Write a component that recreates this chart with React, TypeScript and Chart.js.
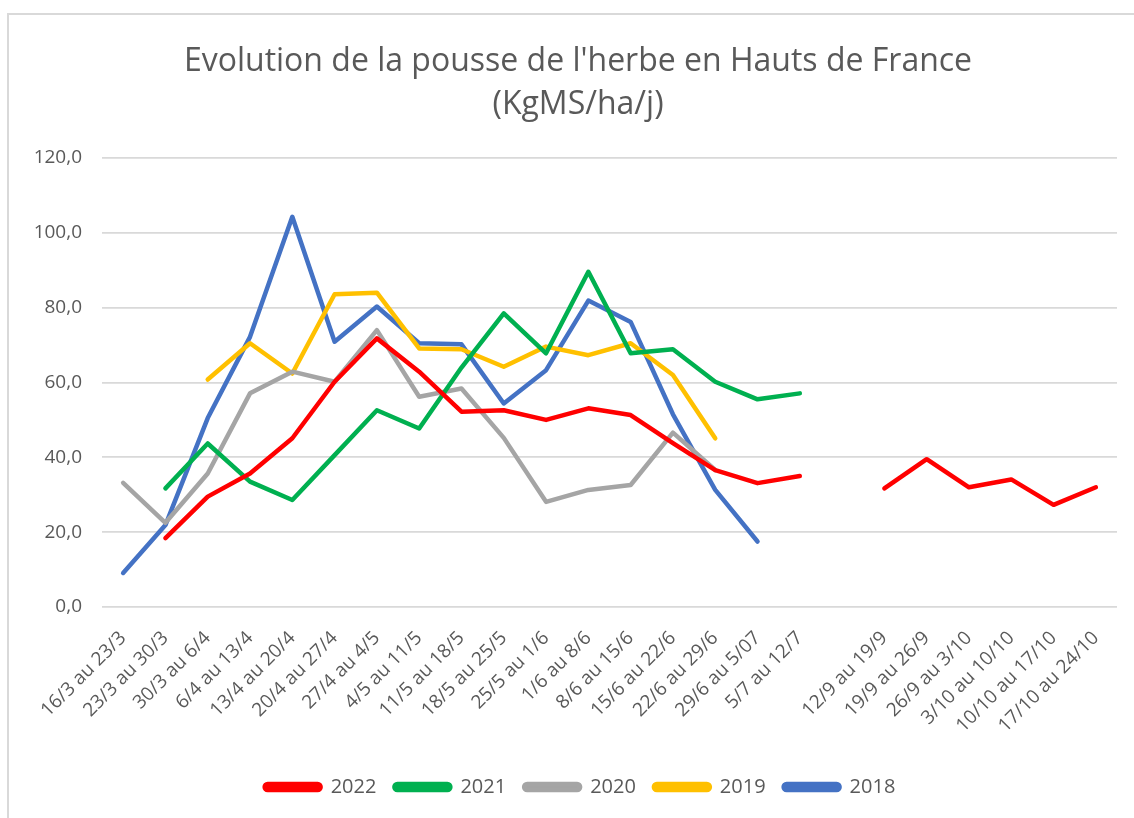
import React, { useEffect, useRef } from "react";
import { Chart, registerables } from "chart.js";

Chart.register(...registerables);

const categories: string[] = [
  "16/3 au 23/3", "23/3 au 30/3", "30/3 au 6/4", "6/4 au 13/4", "13/4 au 20/4",
  "20/4 au 27/4", "27/4 au 4/5", "4/5 au 11/5", "11/5 au 18/5", "18/5 au 25/5",
  "25/5 au 1/6", "1/6 au 8/6", "8/6 au 15/6", "15/6 au 22/6", "22/6 au 29/6",
  "29/6 au 5/07", "5/7 au 12/7", "", "12/9 au 19/9", "19/9 au 26/9",
  "26/9 au 3/10", "3/10 au 10/10", "10/10 au 17/10", "17/10 au 24/10",
];

const s2022: (number | null)[] = [
  null, 18.4, 29.5, 35.7, 45.1, 60.2, 71.8, 62.9, 52.2, 52.6, 50.0, 53.1,
  51.3, 43.8, 36.6, 33.1, 35.0, null, 31.7, 39.5, 32.0, 34.1, 27.3, 32.0,
];
const s2021: (number | null)[] = [
  null, 31.7, 43.7, 33.5, 28.6, 40.6, 52.6, 47.7, 64.0, 78.5, 67.8, 89.6,
  67.8, 68.9, 60.2, 55.5, 57.1, null, null, null, null, null, null, null,
];
const s2020: (number | null)[] = [
  33.2, 22.5, 35.7, 57.1, 62.9, 60.2, 74.0, 56.2, 58.4, 45.2, 28.1, 31.3,
  32.6, 46.6, 36.6, null, null, null, null, null, null, null, null, null,
];
const s2019: (number | null)[] = [
  null, null, 60.8, 70.5, 62.4, 83.6, 84.0, 69.1, 68.9, 64.2, 69.6, 67.3,
  70.5, 62.0, 45.1, null, null, null, null, null, null, null, null, null,
];
const s2018: (number | null)[] = [
  9.1, 21.9, 50.5, 72.2, 104.3, 70.9, 80.3, 70.5, 70.2, 54.4, 63.3, 81.9,
  76.2, 51.5, 31.3, 17.5, null, null, null, null, null, null, null, null,
];

const seriesNames: string[] = ["2022", "2021", "2020", "2019", "2018"];
const seriesColors: string[] = ["#FF0000", "#00B050", "#A5A5A5", "#FFC000", "#4472C4"];
const titleLines: string[] = ["Evolution de la pousse de l'herbe en Hauts de France", "(KgMS/ha/j)"];

const FONT = "'Open Sans', 'Noto Sans', sans-serif";
const TEXT = "#595959";

const shiftBoxes = {
  id: "shiftBoxes",
  afterLayout(chart: any) {
    const l = chart.legend;
    if (l) {
      l.left += 17;
      l.right += 17;
    }
    const t = chart.titleBlock;
    if (t) {
      t.left += 15;
      t.right += 15;
    }
  },
};

export default function App() {
  const ref = useRef<HTMLCanvasElement | null>(null);

  useEffect(() => {
    if (!ref.current) return;
    const values = [s2022, s2021, s2020, s2019, s2018];
    const chart = new Chart(ref.current, {
      type: "line",
      data: {
        labels: categories,
        datasets: seriesNames.map((name, i) => ({
          label: name,
          data: values[i],
          borderColor: seriesColors[i],
          backgroundColor: seriesColors[i],
          borderWidth: 4.5,
          pointRadius: 0,
          pointHoverRadius: 0,
          tension: 0,
          spanGaps: false,
          borderCapStyle: "round" as const,
          borderJoinStyle: "round" as const,
        })),
      },
      plugins: [shiftBoxes],
      options: {
        animation: false,
        responsive: false,
        maintainAspectRatio: false,
        layout: { padding: { left: 0, right: 17, top: 0, bottom: 11 } },
        plugins: {
          tooltip: { enabled: false },
          title: {
            display: true,
            text: titleLines,
            color: TEXT,
            font: { family: FONT, size: 32, weight: "normal", lineHeight: 1.344 },
            padding: { top: 25, bottom: 32 },
          },
          legend: {
            display: true,
            position: "bottom",
            labels: {
              color: TEXT,
              font: { family: FONT, size: 20 },
              boxWidth: 56,
              boxHeight: 6,
              padding: 18,
              useBorderRadius: true,
              borderRadius: 3,
            },
          },
        },
        scales: {
          x: {
            type: "category",
            offset: true,
            grid: { display: false },
            border: { display: false },
            ticks: {
              color: TEXT,
              font: { family: FONT, size: 19 },
              minRotation: 45,
              maxRotation: 45,
              autoSkip: false,
              padding: 12,
            },
            afterFit: (scale: any) => {
              scale.height = 152;
            },
          },
          y: {
            min: 0,
            max: 120,
            grid: { color: "#D9D9D9", lineWidth: 1.8, drawTicks: false },
            border: { display: false },
            ticks: {
              stepSize: 20,
              color: TEXT,
              font: { family: FONT, size: 19 },
              padding: 20,
              callback: (v: any) => Number(v).toFixed(1).replace(".", ","),
            },
            afterFit: (scale: any) => {
              scale.width = 93;
            },
          },
        },
      },
    });
    return () => chart.destroy();
  }, []);

  return (
    <div
      style={{
        position: "absolute",
        left: 7,
        top: 13,
        width: 1127,
        height: 805,
        borderLeft: "2px solid #D9D9D9",
        borderTop: "2px solid #D9D9D9",
        background: "#fff",
      }}
    >
      <canvas ref={ref} width={1125} height={803} style={{ display: "block" }} />
    </div>
  );
}
